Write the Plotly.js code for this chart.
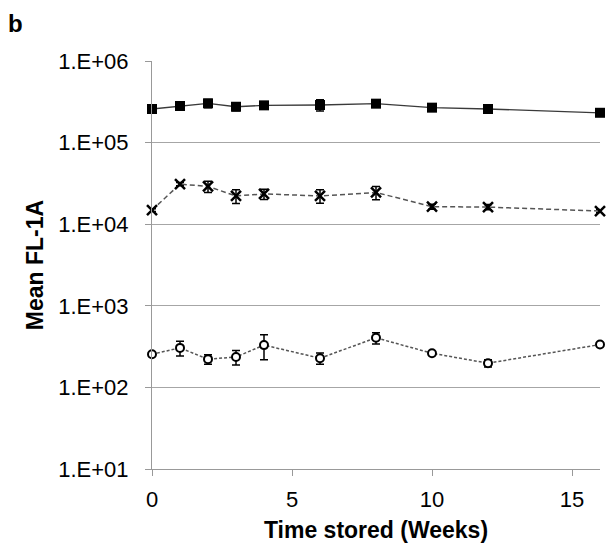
<!DOCTYPE html>
<html><head><meta charset="utf-8">
<script src="https://cdn.plot.ly/plotly-3.0.1.min.js"></script>
<style>html,body{margin:0;padding:0;background:#fff}#chart{width:606px;height:551px}</style>
</head><body><div id="chart"></div>
<script>
const weeks = [0, 1, 2, 3, 4, 6, 8, 10, 12, 16];
const topVals = [258000, 281000, 303000, 275000, 286000, 289000, 300000, 268000, 258000, 232000];
const topErr  = [15000, 15000, 35000, 30000, 30000, 45000, 25000, 15000, 15000, 10000];
const midVals = [14900, 31000, 29000, 22200, 23500, 22200, 24500, 16400, 16200, 14500];
const midErr  = [600, 1500, 4500, 4300, 3400, 4200, 4500, 1200, 1200, 600];
const lowVals = [255, 305, 222, 236, 330, 228, 405, 262, 198, 335];
const lowErr  = [12, 62, 30, 48, 112, 36, 64, 12, 20, 16];
const yTickVals = [10, 100, 1000, 10000, 100000, 1000000];
const yTickText = ["1.E+01", "1.E+02", "1.E+03", "1.E+04", "1.E+05", "1.E+06"];
const xTickVals = [0, 5, 10, 15];

const errStyle = (arr) => ({type: 'data', array: arr, visible: true, color: '#000', thickness: 1.5, width: 4});

const traces = [
  {x: weeks, y: topVals, error_y: errStyle(topErr), mode: 'lines+markers', type: 'scatter',
   line: {color: '#3a3a3a', width: 1.3},
   marker: {symbol: 'square', size: 10, color: '#000'}, cliponaxis: false},
  {x: weeks, y: midVals, error_y: errStyle(midErr), mode: 'lines+markers', type: 'scatter',
   line: {color: '#555', width: 1.5, dash: '5px,3px'},
   marker: {symbol: 'x-thin', size: 10, color: '#000', line: {color: '#000', width: 2.5}}, cliponaxis: false},
  {x: weeks, y: lowVals, error_y: errStyle(lowErr), mode: 'lines+markers', type: 'scatter',
   line: {color: '#555', width: 1.5, dash: '3px,2px'},
   marker: {symbol: 'circle', size: 8, color: '#fff', line: {color: '#000', width: 2}}, cliponaxis: false}
];

const font = {family: 'Liberation Sans, Arial, sans-serif', color: '#000'};
const layout = {
  width: 606, height: 551,
  margin: {l: 152, r: 6, t: 61, b: 82},
  paper_bgcolor: '#fff', plot_bgcolor: '#fff',
  showlegend: false,
  font: Object.assign({size: 22}, font),
  xaxis: {
    range: [0, 16], tickvals: xTickVals, ticks: 'outside', ticklen: 6, tickcolor: '#999',
    showline: true, linecolor: '#999', linewidth: 1, showgrid: false, zeroline: false,
    tickfont: Object.assign({size: 22}, font), ticklabelstandoff: 5,
    title: {text: '<b>Time stored (Weeks)</b>', font: Object.assign({size: 23}, font), standoff: 10}
  },
  yaxis: {
    type: 'log', range: [1, 6], tickvals: yTickVals, ticktext: yTickText,
    ticks: 'outside', ticklen: 6, tickcolor: '#999',
    showline: true, linecolor: '#999', linewidth: 1,
    showgrid: true, gridcolor: '#a6a6a6', gridwidth: 1, zeroline: false,
    tickfont: Object.assign({size: 22}, font), ticklabelstandoff: 12,
    title: {text: '<b>Mean FL-1A</b>', font: Object.assign({size: 23}, font), standoff: 8}
  },
  annotations: [{text: '<b>b</b>', xref: 'paper', yref: 'paper', x: -0.326, y: 1.13,
    xanchor: 'left', yanchor: 'top', showarrow: false, font: Object.assign({size: 24}, font)}]
};
Plotly.newPlot('chart', traces, layout, {displayModeBar: false, staticPlot: true});
</script></body></html>
